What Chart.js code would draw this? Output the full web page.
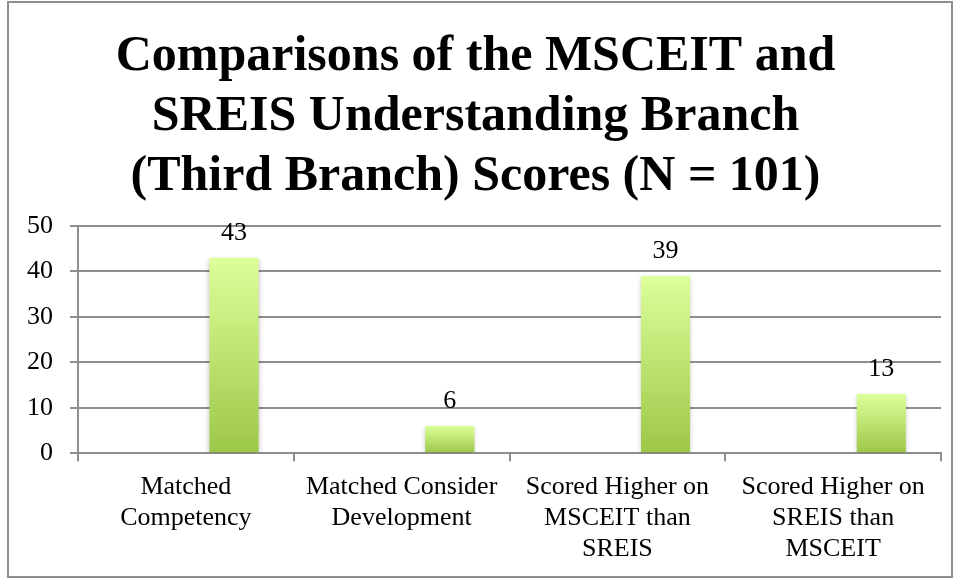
<!DOCTYPE html>
<html>
<head>
<meta charset="utf-8">
<script src="https://cdn.jsdelivr.net/npm/chart.js@4.4.1/dist/chart.umd.min.js"></script>
<style>
  html, body { margin: 0; padding: 0; background: #fff; }
  #frame {
    position: absolute; left: 7px; top: 1px;
    width: 942px; height: 573px;
    border: 2px solid #8e8e8e;
  }
  canvas { display: block; }
</style>
</head>
<body>
<div id="frame"><canvas id="chart" width="942" height="573"></canvas></div>
<script>
const categories = [
  ['Matched', 'Competency'],
  ['Matched Consider', 'Development'],
  ['Scored Higher on', 'MSCEIT than', 'SREIS'],
  ['Scored Higher on', 'SREIS than', 'MSCEIT']
];
const emptySeries = [null, null, null, null];
const counts = [43, 6, 39, 13];
const yTicks = [0, 10, 20, 30, 40, 50];
const titleLines = [
  'Comparisons of the MSCEIT and',
  'SREIS Understanding Branch',
  '(Third Branch) Scores (N = 101)'
];

const fontFamily = "'Liberation Serif', 'DejaVu Serif', serif";

function barGradient(ctx) {
  const chart = ctx.chart;
  const y = chart.scales.y;
  if (!chart.chartArea || !y || ctx.raw == null) return '#b5d86a';
  const top = y.getPixelForValue(ctx.raw);
  const bottom = y.getPixelForValue(0);
  if (!isFinite(top) || !isFinite(bottom) || top === bottom) return '#b5d86a';
  const g = chart.ctx.createLinearGradient(0, top, 0, bottom);
  g.addColorStop(0, '#dcff9a');
  g.addColorStop(1, '#9dc748');
  return g;
}

const valueLabels = {
  id: 'valueLabels',
  afterDatasetsDraw(chart) {
    const ctx = chart.ctx;
    const meta = chart.getDatasetMeta(1);
    ctx.save();
    ctx.font = '26px ' + fontFamily;
    ctx.fillStyle = '#000';
    ctx.textAlign = 'center';
    ctx.textBaseline = 'alphabetic';
    meta.data.forEach((bar, i) => {
      ctx.fillText(String(counts[i]), bar.x, bar.y - 18);
    });
    ctx.restore();
  }
};

const barShadow = {
  id: 'barShadow',
  beforeDatasetDraw(chart) {
    chart.ctx.save();
    chart.ctx.shadowColor = 'rgba(0,0,0,0.25)';
    chart.ctx.shadowBlur = 5;
    chart.ctx.shadowOffsetY = 2;
  },
  afterDatasetDraw(chart) {
    chart.ctx.restore();
  }
};

new Chart(document.getElementById('chart'), {
  type: 'bar',
  data: {
    labels: categories,
    datasets: [
      { label: 'blank', data: emptySeries, backgroundColor: 'rgba(0,0,0,0)' },
      { label: 'Count', data: counts, backgroundColor: barGradient, borderWidth: 0 }
    ]
  },
  options: {
    responsive: false,
    animation: false,
    categoryPercentage: 0.893,
    barPercentage: 0.51,
    layout: { padding: { left: 1, right: 10, top: 0, bottom: 0 } },
    plugins: {
      legend: { display: false },
      tooltip: { enabled: false },
      title: {
        display: true,
        text: titleLines,
        color: '#000',
        font: { family: fontFamily, size: 50, weight: 'bold', lineHeight: 1.2 },
        padding: { top: 24, bottom: 19 }
      }
    },
    scales: {
      x: {
        grid: {
          offset: true,
          drawOnChartArea: false,
          drawTicks: true,
          tickLength: 8,
          color: '#8e8e8e',
          lineWidth: 2
        },
        border: { color: '#8e8e8e', width: 2 },
        ticks: {
          color: '#000',
          maxRotation: 0,
          autoSkip: false,
          padding: 11,
          font: { family: fontFamily, size: 26, lineHeight: 1.19 }
        }
      },
      y: {
        min: 0,
        max: 50,
        afterBuildTicks(axis) { axis.ticks = yTicks.map(v => ({ value: v })); },
        grid: { color: '#8e8e8e', lineWidth: 2, tickLength: 8 },
        border: { color: '#8e8e8e', width: 2 },
        ticks: {
          color: '#000',
          padding: 17,
          font: { family: fontFamily, size: 26 }
        }
      }
    }
  },
  plugins: [barShadow, valueLabels]
});
</script>
</body>
</html>
